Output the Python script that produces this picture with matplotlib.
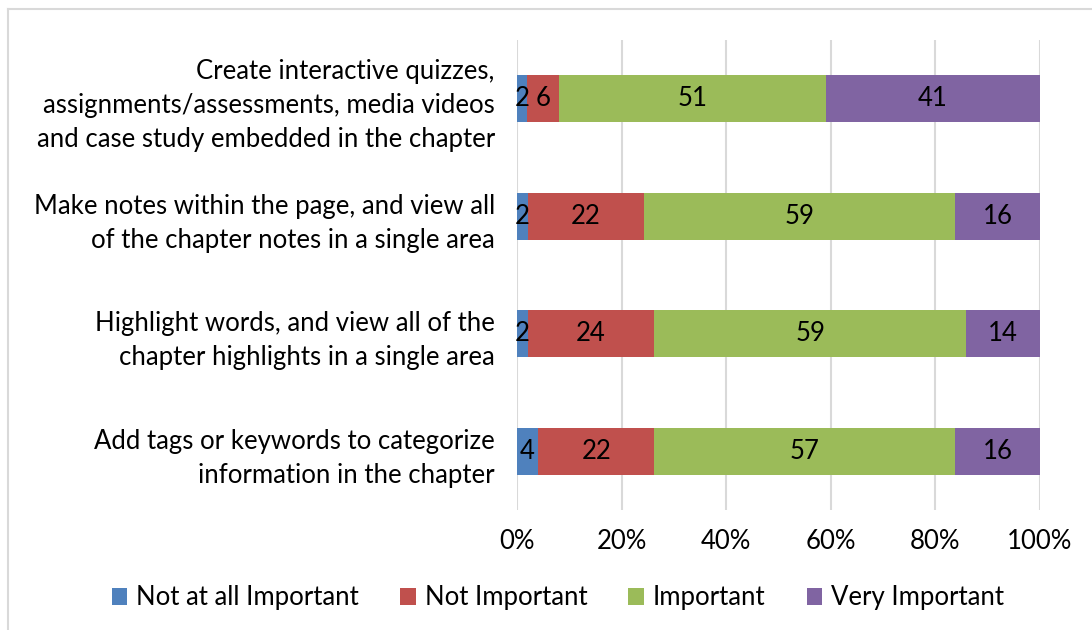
import matplotlib
matplotlib.use("Agg")
import matplotlib.pyplot as plt
import numpy as np
from matplotlib.lines import Line2D

categories = [
    "Create interactive quizzes,\nassignments/assessments, media videos\nand case study embedded in the chapter",
    "Make notes within the page, and view all\nof the chapter notes in a single area",
    "Highlight words, and view all of the\nchapter highlights in a single area",
    "Add tags or keywords to categorize\ninformation in the chapter",
]
series_names = ["Not at all Important", "Not Important", "Important", "Very Important"]
not_at_all = [2, 2, 2, 4]
not_important = [6, 22, 24, 22]
important = [51, 59, 59, 57]
very_important = [41, 16, 14, 16]
xtick_labels = ["0%", "20%", "40%", "60%", "80%", "100%"]
colors = ["#4F81BD", "#C0504D", "#9BBB59", "#8064A2"]

plt.rcParams['font.family'] = ['Lato', 'DejaVu Sans']
FS = 18.5

fig = plt.figure(figsize=(10.92, 6.3), dpi=100)
ax = fig.add_axes([517/1092, 1-510/630, (1040-517)/1092, (510-40)/630])

data = np.array([not_at_all, not_important, important, very_important], dtype=float)
totals = data.sum(axis=0)
frac = data / totals
y = np.arange(len(categories))
left = np.zeros(len(categories))
for i, name in enumerate(series_names):
    bars = ax.barh(y, frac[i], left=left, height=0.4, color=colors[i], label=name, zorder=3)
    for j, b in enumerate(bars):
        ax.text(left[j] + frac[i][j] / 2, y[j], str(int(data[i][j])), ha='center', va='center',
                fontsize=FS, color='black', zorder=4)
    left += frac[i]

ax.set_xlim(0, 1)
ax.set_ylim(len(categories) - 0.5, -0.5)
ax.set_xticks(np.linspace(0, 1, 6))
ax.set_xticklabels(xtick_labels, fontsize=FS)
ax.set_yticks(y)
ax.set_yticklabels(categories, fontsize=FS)
for lab in ax.get_yticklabels():
    lab.set_multialignment('right')
    lab.set_linespacing(1.45)
ax.tick_params(axis='both', length=0)
ax.tick_params(axis='y', pad=16)
ax.tick_params(axis='x', pad=14)
ax.grid(axis='x', color='#D9D9D9', linewidth=1.5, zorder=0)
for s in ax.spines.values():
    s.set_visible(False)

handles, labels = ax.get_legend_handles_labels()
fig.legend(handles, labels, loc='center', bbox_to_anchor=(0.511, 1-598/630), ncol=4, frameon=False,
           fontsize=FS, handlelength=0.6, handleheight=0.6, handletextpad=0.35, columnspacing=1.6)

# outer chart border (left and top visible)
fig.add_artist(Line2D([8/1092, 8/1092], [0, 1-9/630], transform=fig.transFigure, color='#D9D9D9', linewidth=1.5))
fig.add_artist(Line2D([8/1092, 1], [1-9/630, 1-9/630], transform=fig.transFigure, color='#D9D9D9', linewidth=1.5))

fig.savefig("out.png", dpi=100)
